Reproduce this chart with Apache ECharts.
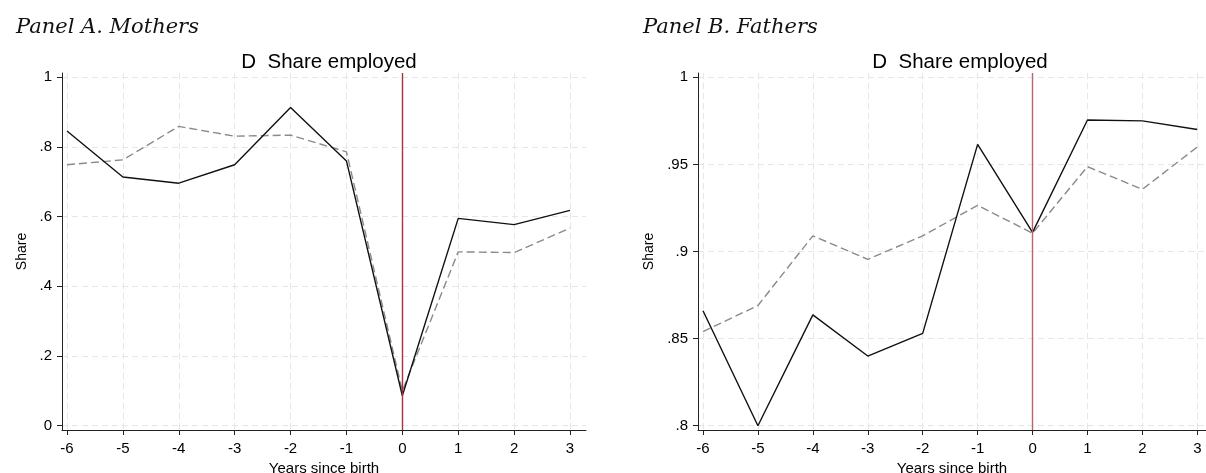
<!DOCTYPE html>
<html>
<head>
<meta charset="utf-8">
<script src="https://cdn.jsdelivr.net/npm/echarts@6/dist/echarts.min.js"></script>
<style>
html,body{margin:0;padding:0;background:#fff;}
#chart{width:1206px;height:473px;}
</style>
</head>
<body>
<div id="chart"></div>
<script>
// ---- Data ----
const years = [-6, -5, -4, -3, -2, -1, 0, 1, 2, 3];
const mothersSolid  = [0.846, 0.714, 0.696, 0.749, 0.913, 0.760, 0.086, 0.595, 0.577, 0.618];
const mothersDashed = [0.749, 0.763, 0.859, 0.831, 0.834, 0.786, 0.100, 0.499, 0.497, 0.567];
const fathersSolid  = [0.866, 0.800, 0.8636, 0.840, 0.853, 0.9615, 0.911, 0.9755, 0.975, 0.970];
const fathersDashed = [0.854, 0.869, 0.909, 0.8955, 0.909, 0.9265, 0.9105, 0.9487, 0.9357, 0.960];
const mothersYTicks = [0, 0.2, 0.4, 0.6, 0.8, 1];
const fathersYTicks = [0.8, 0.85, 0.9, 0.95, 1];
const panelTitles = ['Panel A. Mothers', 'Panel B. Fathers'];
const chartTitle = 'D  Share employed';
const xName = 'Years since birth';
const yName = 'Share';
const eventYear = 0;

const pair = (xs, ys) => xs.map((x, i) => [x, ys[i]]);
const fmtY = v => {
  if (v === 0) return '0';
  if (v === 1) return '1';
  return String(v).replace(/^0\./, '.');
};
const sans = 'Liberation Sans, Arial, Helvetica, sans-serif';
const serif = 'DejaVu Serif, Liberation Serif, serif';
const gridLine = { show: true, lineStyle: { color: '#e6e6e6', type: [6, 4], width: 1 } };

function xAxis(gridIndex, min, max) {
  return {
    type: 'value', gridIndex, min, max,
    name: xName, nameLocation: 'middle', nameGap: 29,
    nameTextStyle: { fontFamily: sans, fontSize: 15, color: '#000' },
    axisLine: { show: true, onZero: false, lineStyle: { color: '#222', width: 1 } },
    axisTick: { show: true, length: 5, customValues: years, lineStyle: { color: '#222' } },
    axisLabel: { customValues: years, margin: 11, fontFamily: sans, fontSize: 15, color: '#000', formatter: v => String(v) },
    splitLine: gridLine
  };
}
function yAxis(gridIndex, min, max, ticks, gap) {
  return {
    type: 'value', gridIndex, min, max,
    name: yName, nameLocation: 'middle', nameGap: gap, nameRotate: 90,
    nameTextStyle: { fontFamily: sans, fontSize: 14, color: '#000' },
    axisLine: { show: true, onZero: false, lineStyle: { color: '#222', width: 1 } },
    axisTick: { show: true, length: 5, customValues: ticks, lineStyle: { color: '#222' } },
    axisLabel: { customValues: ticks, margin: 10, fontFamily: sans, fontSize: 15, color: '#000', formatter: fmtY },
    splitLine: gridLine
  };
}
function lineSeries(idx, data, dashed, mark, markColor) {
  const s = {
    type: 'line', xAxisIndex: idx, yAxisIndex: idx,
    data, symbol: 'none', animation: false, silent: true,
    lineStyle: dashed ? { color: '#8a8a8a', width: 1.4, type: [8, 4] } : { color: '#111', width: 1.4 },
    z: dashed ? 3 : 4
  };
  if (mark) {
    s.markLine = {
      symbol: 'none', silent: true, animation: false,
      label: { show: false },
      lineStyle: { color: markColor, width: 1.4, type: 'solid' },
      data: [{ xAxis: eventYear }]
    };
  }
  return s;
}

const chart = echarts.init(document.getElementById('chart'), null, { renderer: 'canvas' });
chart.setOption({
  backgroundColor: '#fff',
  animation: false,
  title: [
    { text: panelTitles[0], left: 11, top: 12, textStyle: { fontFamily: serif, fontStyle: 'italic', fontWeight: 'normal', fontSize: 21, color: '#111' } },
    { text: panelTitles[1], left: 638, top: 12, textStyle: { fontFamily: serif, fontStyle: 'italic', fontWeight: 'normal', fontSize: 21, color: '#111' } },
    { text: chartTitle, left: 324, top: 47, textAlign: 'center', textStyle: { fontFamily: sans, fontWeight: 'normal', fontSize: 20.5, color: '#000' } },
    { text: chartTitle, left: 955, top: 47, textAlign: 'center', textStyle: { fontFamily: sans, fontWeight: 'normal', fontSize: 20.5, color: '#000' } }
  ],
  grid: [
    { left: 62, top: 73, width: 524, height: 357, containLabel: false, outerBoundsMode: 'none' },
    { left: 698, top: 73, width: 508, height: 357, containLabel: false, outerBoundsMode: 'none' }
  ],
  xAxis: [xAxis(0, -6.089, 3.286), xAxis(1, -6.091, 3.158)],
  yAxis: [yAxis(0, -0.0123, 1.0123, mothersYTicks, 33), yAxis(1, 0.79754, 1.00246, fathersYTicks, 42)],
  series: [
    lineSeries(0, pair(years, mothersDashed), true, false),
    lineSeries(0, pair(years, mothersSolid), false, true, '#a8323e'),
    lineSeries(1, pair(years, fathersDashed), true, false),
    lineSeries(1, pair(years, fathersSolid), false, true, '#b8656d')
  ]
});
</script>
</body>
</html>
